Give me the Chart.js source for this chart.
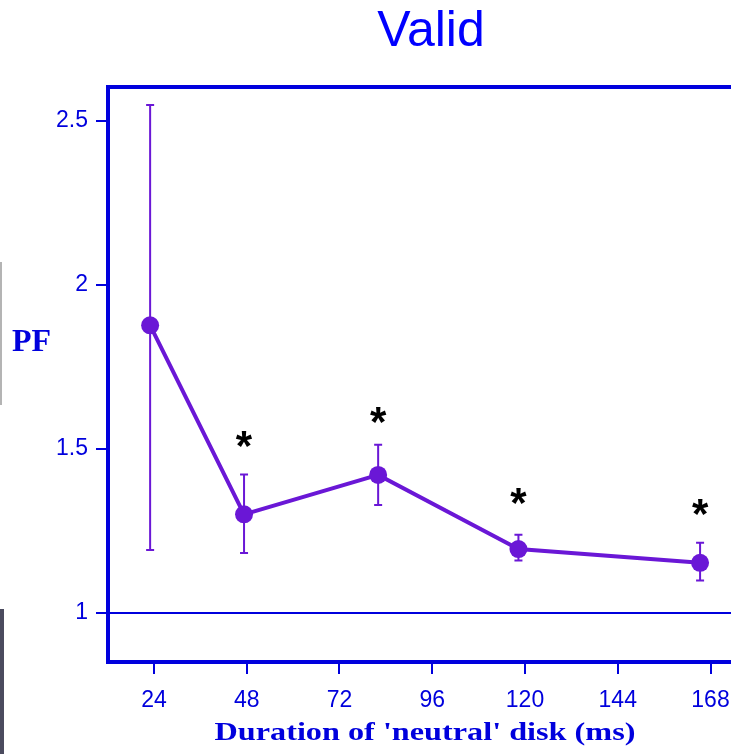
<!DOCTYPE html>
<html>
<head>
<meta charset="utf-8">
<script src="https://cdn.jsdelivr.net/npm/chart.js@4.4.1/dist/chart.umd.min.js"></script>
<style>
  html, body { margin: 0; padding: 0; background: #fff; overflow: hidden; }
  #wrap { position: relative; width: 731px; height: 754px; overflow: hidden; }
</style>
</head>
<body>
<div id="wrap"><canvas id="pfChart" width="740" height="754"></canvas></div>
<script>
// durations (ms) and PF means with error bar ends
var durations = [23, 47.3, 82, 118.3, 165.3];
var pfMean  = [1.876, 1.300, 1.420, 1.194, 1.152];
var pfUpper = [2.548, 1.421, 1.512, 1.238, 1.213];
var pfLower = [1.191, 1.182, 1.328, 1.159, 1.098];
// significance stars (null = none), placed at these PF heights
var starY = [null, 1.530, 1.603, 1.356, 1.322];

var xTicks = [24, 48, 72, 96, 120, 144, 168];
var yTicks = [1, 1.5, 2, 2.5];

var chartTitle = "Valid";
var yLabel = "PF";
var xLabel = "Duration of 'neutral' disk (ms)";

var BLUE = "#0000dd";
var PURPLE = "#6a17d6";

//error bars, stars, frame and labels drawn on top of the chart
var extras = {
    id: "extras",
    beforeDatasetsDraw: function (chart) {
        var c = chart.ctx, xs = chart.scales.x, ys = chart.scales.y;
        c.save();
        c.strokeStyle = PURPLE;
        c.lineWidth = 2;
        for (var i = 0; i < durations.length; i++) {
            var px = xs.getPixelForValue(durations[i]);
            var top = ys.getPixelForValue(pfUpper[i]);
            var bot = ys.getPixelForValue(pfLower[i]);
            c.beginPath();
            c.moveTo(px, top); c.lineTo(px, bot);
            c.moveTo(px - 4, top); c.lineTo(px + 4, top);
            c.moveTo(px - 4, bot); c.lineTo(px + 4, bot);
            c.stroke();
        }
        c.restore();
    },
    afterDraw: function (chart) {
        var c = chart.ctx, xs = chart.scales.x, ys = chart.scales.y, a = chart.chartArea;
        c.save();

        // top frame line
        c.strokeStyle = BLUE;
        c.lineWidth = 4;
        c.beginPath();
        c.moveTo(a.left - 2, a.top);
        c.lineTo(a.right, a.top);
        c.stroke();

        // stars
        c.fillStyle = "#000";
        c.font = "bold 42px 'Liberation Sans', Arial, sans-serif";
        c.textAlign = "center";
        c.textBaseline = "alphabetic";
        var m = c.measureText("*");
        var off = (m.actualBoundingBoxDescent - m.actualBoundingBoxAscent) / 2;
        for (var i = 0; i < starY.length; i++) {
            if (starY[i] === null) continue;
            c.fillText("*", xs.getPixelForValue(durations[i]), ys.getPixelForValue(starY[i]) - off);
        }

        // title
        c.fillStyle = "#0000ff";
        c.font = "50px 'Liberation Sans', Arial, sans-serif";
        c.fillText(chartTitle, 431, 46);

        // axis titles
        c.fillStyle = BLUE;
        c.font = "bold 32px 'Liberation Serif', 'Times New Roman', serif";
        c.textAlign = "left";
        c.fillText(yLabel, 12, 351);
        c.font = "bold 26px 'Liberation Serif', 'Times New Roman', serif";
        c.textAlign = "center";
        c.translate(425, 740);
        c.scale(1.24, 1);
        c.fillText(xLabel, 0, 0);
        c.setTransform(1, 0, 0, 1, 0, 0);

        // slide edge marks on the left
        c.fillStyle = "#b4b4b4";
        c.fillRect(0, 262, 2, 143);
        c.fillStyle = "#4b4b5e";
        c.fillRect(0, 609, 4, 145);
        c.restore();
    }
};

var ctx = document.getElementById("pfChart").getContext("2d");
window.pfChart = new Chart(ctx, {
    type: "line",
    data: {
        datasets: [{
            data: durations.map(function (d, i) { return { x: d, y: pfMean[i] }; }),
            borderColor: PURPLE,
            backgroundColor: PURPLE,
            borderWidth: 4,
            pointRadius: 9,
            pointBorderWidth: 0,
            pointBackgroundColor: PURPLE,
            tension: 0
        }]
    },
    options: {
        responsive: false,
        animation: false,
        layout: { padding: { left: 0, top: 87, right: 0, bottom: 0 } },
        plugins: { legend: { display: false }, tooltip: { enabled: false } },
        scales: {
            x: {
                type: "linear",
                min: 12.1,
                max: 173.3,
                afterBuildTicks: function (s) { s.ticks = xTicks.map(function (v) { return { value: v }; }); },
                afterFit: function (s) { s.height = 92; s.paddingLeft = 0; s.paddingRight = 0; },
                border: { color: BLUE, width: 4 },
                grid: { drawOnChartArea: false, tickColor: BLUE, tickLength: 12, lineWidth: 2 },
                ticks: {
                    color: BLUE,
                    padding: 13,
                    maxRotation: 0,
                    font: { family: "'Liberation Sans', Arial, sans-serif", size: 23 },
                    callback: function (v) { return String(v); }
                }
            },
            y: {
                min: 0.8497,
                max: 2.6027,
                afterBuildTicks: function (s) { s.ticks = yTicks.map(function (v) { return { value: v }; }); },
                afterFit: function (s) { s.width = 108; s.paddingTop = 0; s.paddingBottom = 0; },
                border: { color: BLUE, width: 4 },
                grid: {
                    drawOnChartArea: true,
                    color: function (g) { return g.tick && g.tick.value === 1 ? BLUE : "rgba(0,0,0,0)"; },
                    tickColor: BLUE,
                    tickLength: 12,
                    lineWidth: 2
                },
                ticks: {
                    color: BLUE,
                    padding: 8,
                    font: { family: "'Liberation Sans', Arial, sans-serif", size: 23 },
                    callback: function (v) { return String(v); }
                }
            }
        }
    },
    plugins: [extras]
});
</script>
</body>
</html>
